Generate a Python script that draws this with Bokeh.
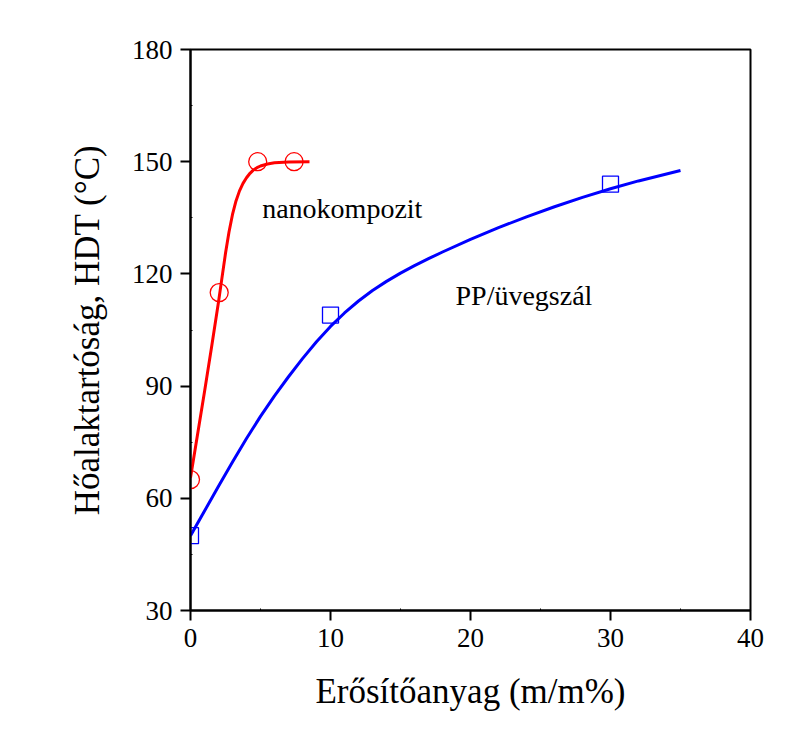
from bokeh.plotting import figure
from bokeh.models import Range1d, FixedTicker, Label
from bokeh.embed import file_html
from bokeh.resources import INLINE

# --- data ---
nano_x = [0, 2.05, 4.8, 7.4]
nano_y = [65, 115, 150, 150]
nano_curve_x = [0, 0.5, 1.0, 1.5, 2.0, 2.25, 2.5, 2.75, 3.0, 3.25, 3.5, 3.75, 4.0,
                4.25, 4.5, 4.75, 5.0, 5.5, 6.0, 7.0, 8.5]
nano_curve_y = [65.5, 77, 88.5, 100.3, 112.5, 119.0, 125.5, 131.2, 135.9, 139.5, 142.2, 144.2, 145.7,
                146.9, 147.8, 148.4, 148.85, 149.4, 149.7, 149.95, 150]

glass_x = [0, 10, 30]
glass_y = [50, 109, 144]
glass_curve_x = [0, 1, 2, 3, 4, 5, 6, 7, 8, 9, 10, 11, 12, 13, 14, 15, 16, 17, 18,
                 20, 22, 24, 26, 28, 30, 32, 35]
glass_curve_y = [50, 56.6, 63.2, 69.7, 76.0, 81.9, 87.4, 92.5, 97.35, 101.85, 105.95, 109.55,
                 112.75, 115.55, 118.0, 120.2, 122.2, 124.08, 125.86, 129.26, 132.36, 135.26,
                 137.96, 140.46, 142.76, 144.86, 147.65]

x_ticks = [0, 10, 20, 30, 40]
y_ticks = [30, 60, 90, 120, 150, 180]

FONT = "Liberation Serif"

p = figure(width=804, height=738, output_backend="svg", toolbar_location=None,
           x_range=Range1d(0, 40), y_range=Range1d(30, 180),
           min_border_left=190, min_border_right=54, min_border_top=49, min_border_bottom=128)

p.grid.visible = False
p.background_fill_color = "white"
p.border_fill_color = "white"
p.outline_line_color = "black"
p.outline_line_width = 2
p.outline_line_alpha = 1

for ax, ticks in ((p.xaxis[0], x_ticks), (p.yaxis[0], y_ticks)):
    ax.ticker = FixedTicker(ticks=ticks, minor_ticks=[t + (ticks[1] - ticks[0]) / 2 for t in ticks[:-1]])
    ax.axis_line_width = 2
    ax.axis_line_color = "black"
    ax.major_tick_line_width = 2
    ax.major_tick_line_color = "black"
    ax.major_tick_out = 10
    ax.major_tick_in = 0
    ax.minor_tick_in = 2
    ax.minor_tick_out = 0
    ax.minor_tick_line_color = "black"
    ax.minor_tick_line_width = 1
    ax.major_label_text_font = FONT
    ax.major_label_text_font_size = "27px"
    ax.major_label_text_color = "black"
    ax.major_label_standoff = 8
    ax.axis_label_text_font = FONT
    ax.axis_label_text_font_size = "35px"
    ax.axis_label_text_font_style = "normal"
    ax.axis_label_text_color = "black"

p.xaxis.axis_label = "Erősítőanyag (m/m%)"
p.yaxis.axis_label = "Hőalaktartóság, HDT (°C)"
p.xaxis.axis_label_standoff = 22
p.yaxis.axis_label_standoff = 22

# curves
p.line(nano_curve_x, nano_curve_y, line_color="#ff0000", line_width=3, line_join="round")
p.line(glass_curve_x, glass_curve_y, line_color="#0000ff", line_width=3, line_join="round")

# markers
p.scatter(nano_x, nano_y, marker="circle", size=18, fill_color=None,
          line_color="#ff0000", line_width=1.3)
p.scatter(glass_x, glass_y, marker="square", size=16, fill_color=None,
          line_color="#0000ff", line_width=1.3)

# annotations
p.add_layout(Label(x=5.12, y=137.5, text="nanokompozit", text_font=FONT,
                   text_font_size="28px", text_color="black", text_baseline="alphabetic"))
p.add_layout(Label(x=18.93, y=114.2, text="PP/üvegszál", text_font=FONT,
                   text_font_size="28px", text_color="black", text_baseline="alphabetic"))

open("out.html", "w").write(file_html(p, INLINE))
